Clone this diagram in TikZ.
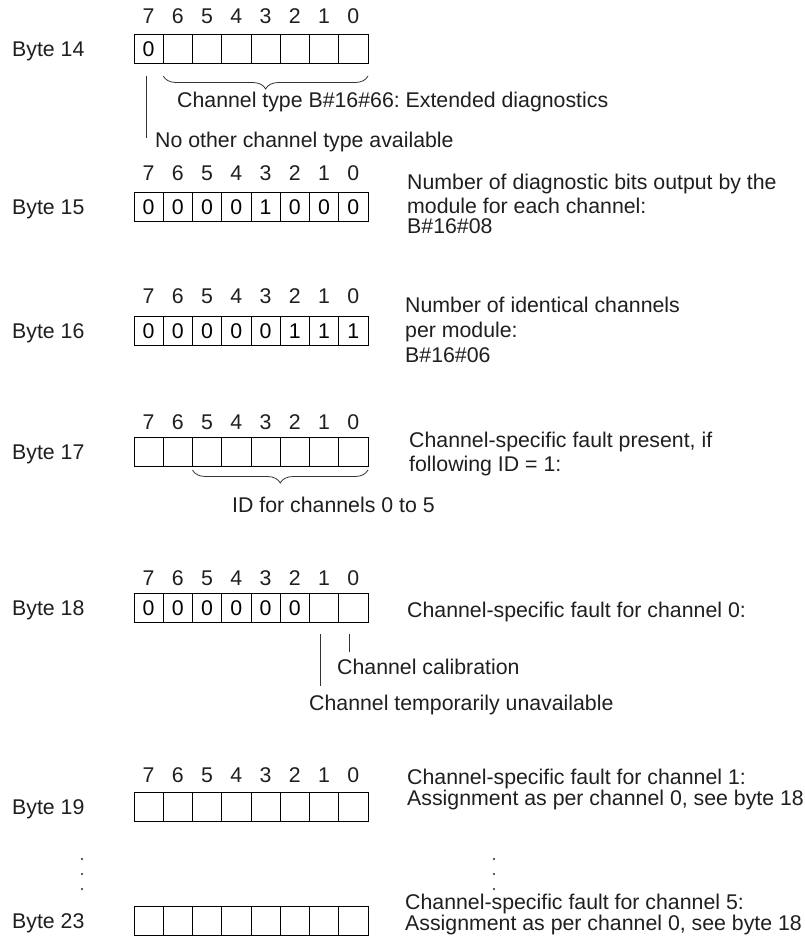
\documentclass[tikz,border=0pt]{standalone}
\usepackage{fontspec}
\setmainfont{Liberation Sans}
\usetikzlibrary{decorations.pathreplacing}
\frenchspacing
\newcommand\fs{\fontsize{21.3}{24}\selectfont}
\tikzset{
  cell/.style={draw, line width=0.9pt, minimum width=29.25pt, minimum height=29.5pt, inner sep=0pt, outer sep=0pt, font=\fs},
  txt/.style={anchor=base west, inner sep=0pt, font=\fs, text=black!88},
  bitnum/.style={anchor=base, inner sep=0pt, font=\fs, text=black!88},
  lead/.style={line width=0.8pt, black!80},
  bracestyle/.style={decorate, decoration={brace, mirror, amplitude=13pt}, line width=0.8pt, black!80},
  dot/.style={fill=black!85, draw=none}
}
% #1 name, #2 top y, #3 values, #4 label
\newcommand\byterow[4]{%
  \foreach \v [count=\k from 0] in {#3} {
    \pgfmathtruncatemacro\bit{7-\k}
    \node[cell] (#1c\bit) at ({134+(\k+0.5)*29.25}, {#2+14.75}) {\v};
  }
  \node[txt] (#1lab) at (12, {#2+14.75+7.6}) {#4};
}
% #1 name, #2 centre y of digits
\newcommand\bitnums[2]{%
  \foreach \k in {0,...,7} {
    \pgfmathtruncatemacro\bit{7-\k}
    \node[bitnum] (#1n\bit) at ({134+(\k+0.5)*29.25}, {#2+7.6}) {\bit};
  }
}
\begin{document}
\begin{tikzpicture}[x=1pt, y=-1pt]
\useasboundingbox (0,0) rectangle (805,943);
\fill[white] (0,0) rectangle (805,943);

% Byte 14
\bitnums{b14}{16}
\byterow{b14}{34}{0,{},{},{},{},{},{},{}}{Byte 14}
\coordinate (br14a) at (163.25,76);
\coordinate (br14b) at (368,76);
\draw[bracestyle] (br14a) -- (br14b);
\node[txt] (t14a) at (177,107.6) {Channel type B\#16\#66: Extended diagnostics};
\coordinate (l14a) at (146,76);
\coordinate (l14b) at (146,138);
\draw[lead] (l14a) -- (l14b);
\node[txt] (t14b) at (155,147.6) {No other channel type available};

% Byte 15
\bitnums{b15}{173}
\byterow{b15}{192}{0,0,0,0,1,0,0,0}{Byte 15}
\node[txt] (t15a) at (407,189.6) {Number of diagnostic bits output by the};
\node[txt] (t15b) at (407,213.6) {module for each channel:};
\node[txt] (t15c) at (407,233.6) {B\#16\#08};

% Byte 16
\bitnums{b16}{296}
\byterow{b16}{316}{0,0,0,0,0,1,1,1}{Byte 16}
\node[txt] (t16a) at (405,312.6) {Number of identical channels};
\node[txt] (t16b) at (405,337.6) {per module:};
\node[txt] (t16c) at (405,362.6) {B\#16\#06};

% Byte 17
\bitnums{b17}{422}
\byterow{b17}{437}{{},{},{},{},{},{},{},{}}{Byte 17}
\node[txt] (t17a) at (409,447.6) {Channel-specific fault present, if};
\node[txt] (t17b) at (409,471.6) {following ID = 1:};
\coordinate (br17a) at (192.5,470);
\coordinate (br17b) at (368,470);
\draw[bracestyle] (br17a) -- (br17b);
\node[txt] (t17c) at (232,512.6) {ID for channels 0 to 5};

% Byte 18
\bitnums{b18}{578}
\byterow{b18}{593}{0,0,0,0,0,0,{},{}}{Byte 18}
\node[txt] (t18a) at (407,617.6) {Channel-specific fault for channel 0:};
\coordinate (l18a) at (349,634);
\coordinate (l18b) at (349,652);
\draw[lead] (l18a) -- (l18b);
\node[txt] (t18b) at (337,674.6) {Channel calibration};
\coordinate (l18c) at (320,634);
\coordinate (l18d) at (320,686);
\draw[lead] (l18c) -- (l18d);
\node[txt] (t18c) at (309,710.6) {Channel temporarily unavailable};

% Byte 19
\bitnums{b19}{775}
\byterow{b19}{792}{{},{},{},{},{},{},{},{}}{Byte 19}
\node[txt] (t19a) at (407,784.6) {Channel-specific fault for channel 1:};
\node[txt] (t19b) at (407,805.6) {Assignment as per channel 0, see byte 18};

% dots
\foreach \yy in {859,874,889} {
  \fill[dot] (82,\yy) circle (1.2);
  \fill[dot] (494,\yy) circle (1.2);
}

% Byte 23
\byterow{b23}{906}{{},{},{},{},{},{},{},{}}{Byte 23}
\node[txt] (t23a) at (405,909.6) {Channel-specific fault for channel 5:};
\node[txt] (t23b) at (405,930.6) {Assignment as per channel 0, see byte 18};
\end{tikzpicture}
\end{document}
